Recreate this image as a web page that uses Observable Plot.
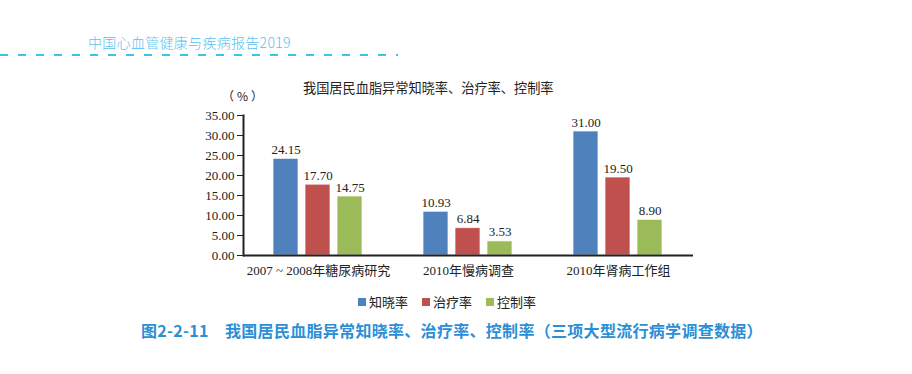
<!DOCTYPE html>
<html>
<head>
<meta charset="utf-8">
<script src="https://cdn.jsdelivr.net/npm/d3@7"></script>
<script src="https://cdn.jsdelivr.net/npm/@observablehq/plot@0.6"></script>
<style>
  html, body { margin: 0; padding: 0; background: #fff; }
  body { width: 912px; height: 374px; position: relative; overflow: hidden; font-family: "Liberation Serif", "Noto Sans CJK SC", serif; }
  .abs { position: absolute; white-space: nowrap; }
  #header { left: 88px; top: 32px; font: 300 14px "Noto Sans CJK SC", "Noto Sans", sans-serif; color: #5cc1ee; letter-spacing: 0.3px; }
  #dash { left: 0; top: 54px; width: 398px; height: 1.6px; background: repeating-linear-gradient(to right, #3cc2ef 0 8px, transparent 8px 18px); }
  #title { left: 303px; top: 78px; font-size: 13.2px; color: #222; font-family: "Noto Sans CJK SC", sans-serif; }
  #unit { left: 222px; top: 87px; font-size: 12px; color: #222; font-family: "Noto Sans CJK SC", sans-serif; letter-spacing: 3px; }
  #chart { left: 0; top: 100px; }
  #legend { left: 358px; top: 292px; font-size: 13px; color: #222; display: flex; gap: 0; font-family: "Noto Sans CJK SC", sans-serif; }
  #legend .item { display: flex; align-items: center; width: 64px; }
  #legend .sw { width: 8px; height: 8px; margin-right: 3px; }
  #caption { left: 141px; top: 318px; font: 600 16px "Noto Sans CJK SC", sans-serif; color: #2a8fd6; letter-spacing: 0.3px; }
</style>
</head>
<body>
<div id="header" class="abs">中国心血管健康与疾病报告2019</div>
<div id="dash" class="abs"></div>
<div id="title" class="abs">我国居民血脂异常知晓率、治疗率、控制率</div>
<div id="unit" class="abs">（%）</div>
<div id="chart" class="abs"></div>
<div id="legend" class="abs"></div>
<div id="caption" class="abs">图2-2-11　我国居民血脂异常知晓率、治疗率、控制率（三项大型流行病学调查数据）</div>
<script>
const groups = ["2007 ~ 2008年糖尿病研究", "2010年慢病调查", "2010年肾病工作组"];
const series = ["知晓率", "治疗率", "控制率"];
const awareness = [24.15, 10.93, 31.00];
const treatment = [17.70, 6.84, 19.50];
const control = [14.75, 3.53, 8.90];
const colors = ["#4F81BD", "#C0504D", "#9BBB59"];
const yTicks = [0, 5, 10, 15, 20, 25, 30, 35];

const seriesValues = [awareness, treatment, control];
const rows = [];
groups.forEach((g, gi) => {
  series.forEach((s, si) => {
    rows.push({group: g, series: s, value: seriesValues[si][gi]});
  });
});

const chart = Plot.plot({
  width: 912,
  height: 185,
  marginTop: 15,
  marginBottom: 30,
  marginLeft: 243,
  marginRight: 219,
  style: {fontFamily: '"Liberation Serif", "Noto Sans CJK SC", serif', fontSize: "13px", color: "#222", background: "transparent"},
  fx: {domain: groups, padding: 0, label: null, axis: null},
  x: {domain: series, paddingInner: 0.212, paddingOuter: 0.879, axis: null},
  y: {domain: [0, 35], label: null, axis: null},
  color: {domain: series, range: colors},
  marks: [
    Plot.barY(rows, {fx: "group", x: "series", y: "value", fill: "series", stroke: "#fff", strokeOpacity: 0.7, strokeWidth: 1}),
    Plot.text(rows, {fx: "group", x: "series", y: "value", text: d => d.value.toFixed(2), lineAnchor: "bottom", dy: -5, fontSize: 13, fill: "#222"}),
    Plot.ruleY([0], {stroke: "#222", strokeWidth: 2}),
    Plot.frame({anchor: "left", facetAnchor: "left", stroke: "#222", strokeWidth: 2}),
    Plot.axisY({ticks: yTicks, tickFormat: d => d.toFixed(2), tickSize: 6, tickPadding: 3, label: null, fontSize: 13, stroke: "#222", facetAnchor: "left"}),
    Plot.axisFx({anchor: "bottom", tickSize: 0, tickPadding: 10, label: null, fontSize: 13, fontFamily: '"Liberation Serif", "Noto Sans CJK SC", serif'})
  ]
});
document.getElementById("chart").appendChild(chart);

const legend = document.getElementById("legend");
series.forEach((s, i) => {
  const item = document.createElement("div");
  item.className = "item";
  const sw = document.createElement("div");
  sw.className = "sw";
  sw.style.background = colors[i];
  const t = document.createElement("span");
  t.textContent = s;
  item.appendChild(sw);
  item.appendChild(t);
  legend.appendChild(item);
});
</script>
</body>
</html>
